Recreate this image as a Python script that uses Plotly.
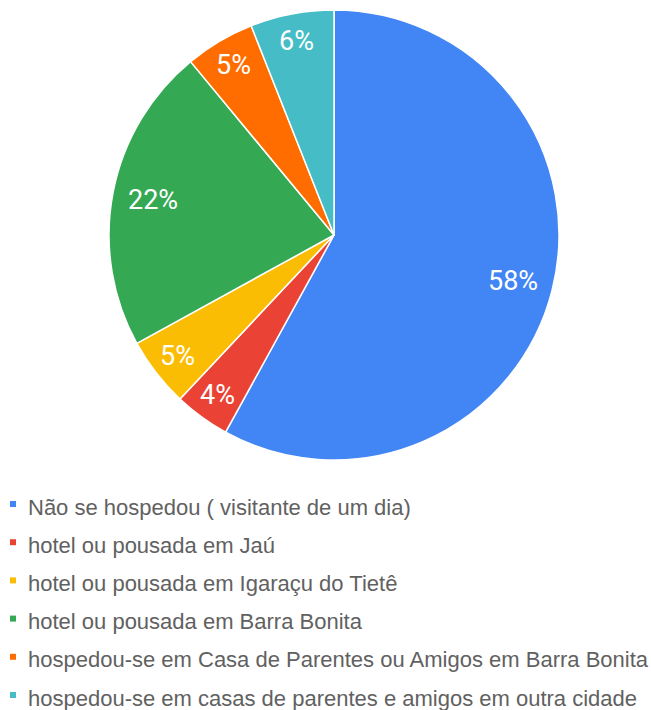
import math
import plotly.graph_objects as go

# Where visitors stayed overnight (share of respondents, %)
categories = [
    "Não se hospedou ( visitante de um dia)",
    "hotel ou pousada em Jaú",
    "hotel ou pousada em Igaraçu do Tietê",
    "hotel ou pousada em Barra Bonita",
    "hospedou-se em Casa de Parentes ou Amigos em Barra Bonita",
    "hospedou-se em casas de parentes e amigos em outra cidade",
]
shares = [58, 4, 5, 22, 5, 6]
colors = ["#4285F4", "#EA4335", "#FBBC04", "#34A853", "#FF6D01", "#46BDC6"]

W, H = 651, 710
# pie geometry in pixels
CX, CY, R = 334, 235, 225

fig = go.Figure(
    go.Pie(
        labels=categories,
        values=shares,
        sort=False,
        direction="clockwise",
        rotation=0,
        marker=dict(colors=colors, line=dict(color="white", width=1.5)),
        textinfo="none",
        showlegend=False,
        hoverinfo="label+percent",
        domain=dict(x=[(CX - R) / W, (CX + R) / W], y=[1 - (CY + R) / H, 1 - (CY - R) / H]),
    )
)

annotations = []

# Percentage labels placed along each slice's bisector
total = sum(shares)
cum = 0
for v in shares:
    mid = (cum + v / 2) / total * 2 * math.pi  # clockwise from 12 o'clock
    cum += v
    frac = 0.82 if v / total >= 0.15 else 0.88
    px = CX + frac * R * math.sin(mid)
    py = CY - frac * R * math.cos(mid)
    annotations.append(
        dict(
            text=f"{round(100 * v / total)}%", xref="paper", yref="paper",
            x=px / W, y=1 - py / H, xanchor="center", yanchor="middle",
            showarrow=False,
            font=dict(family="Roboto", size=27, color="white"),
        )
    )

# Legend: small square swatch + label per category, stacked below the pie
row_top, row_gap = 507, 38.2
shapes = []
for i, (name, col) in enumerate(zip(categories, colors)):
    yc = row_top + i * row_gap
    shapes.append(
        dict(
            type="rect", xref="paper", yref="paper",
            x0=10 / W, x1=16 / W,
            y0=1 - (yc - 6) / H, y1=1 - yc / H,
            fillcolor=col, line=dict(width=0),
        )
    )
    annotations.append(
        dict(
            text=name, xref="paper", yref="paper",
            x=26 / W, y=1 - yc / H,
            xanchor="left", yanchor="middle", showarrow=False,
            font=dict(family="Arial", size=22, color="#616161"),
        )
    )

fig.update_layout(
    width=W,
    height=H,
    margin=dict(l=0, r=0, t=0, b=0),
    paper_bgcolor="white",
    plot_bgcolor="white",
    shapes=shapes,
    annotations=annotations,
)

fig.write_html("out.html")
